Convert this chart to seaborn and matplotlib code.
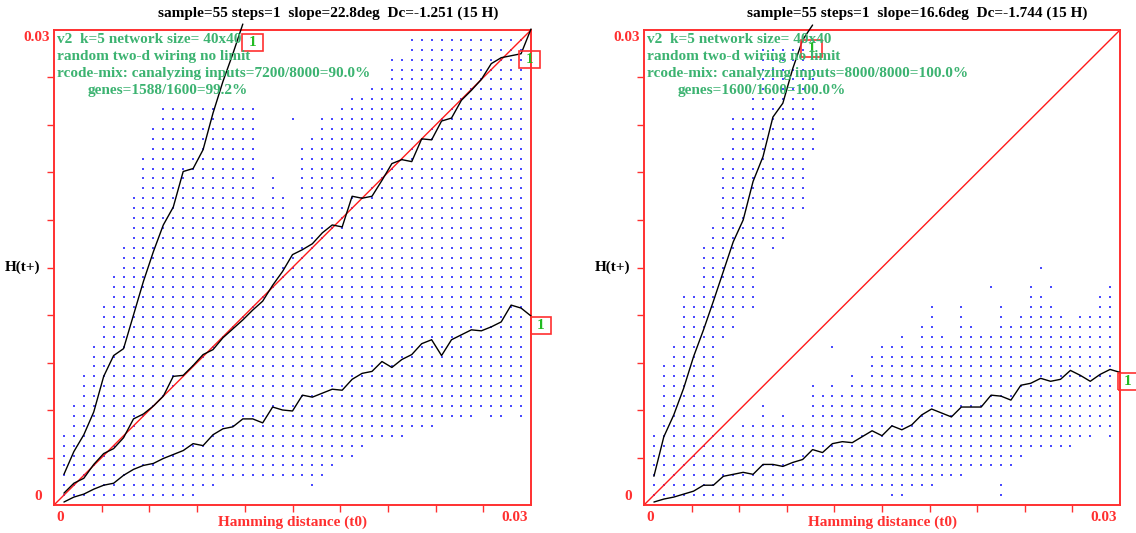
"""Derrida plot pair: damage spread H(t+) against Hamming distance (t0)."""
import matplotlib
matplotlib.use("Agg")
import matplotlib.pyplot as plt
import numpy as np
import pandas as pd
import seaborn as sns
from matplotlib.patches import Rectangle

CELLS = 1600  # 40x40 network, values below are in cells
TOP = 48      # 0.03 * 1600

steps = list(range(1, 49))

left_steep_steps = list(range(1, 20))
left_steep = [3.1, 5.4, 7.1, 9.4, 13.0, 15.1, 15.8, 19.2, 22.6, 25.6, 28.3, 30.1,
              33.7, 34.0, 35.9, 39.6, 42.8, 45.6, 48.6]
left_middle = [1.2, 2.2, 2.7, 4.1, 5.2, 5.7, 6.8, 8.7, 9.2, 10.0, 11.0, 13.0,
               13.1, 14.1, 15.2, 15.7, 16.9, 17.8, 18.7, 19.7, 20.6, 22.2, 23.6, 25.3,
               25.8, 26.4, 27.5, 28.3, 28.1, 31.2, 31.0, 31.2, 32.8, 34.5, 34.9, 34.7,
               37.0, 36.9, 38.8, 39.1, 40.9, 41.9, 43.0, 44.6, 45.2, 45.4, 45.6, 48.1]
left_bottom = [0.3, 0.8, 1.1, 1.6, 2.0, 2.2, 3.0, 3.6, 4.0, 4.2, 4.7, 5.1,
               5.5, 6.2, 6.0, 7.1, 7.7, 7.9, 8.7, 8.7, 8.3, 9.9, 9.6, 9.5,
               11.1, 10.9, 11.3, 11.7, 11.6, 12.7, 13.3, 13.5, 14.5, 13.9, 14.7, 15.2,
               16.3, 16.7, 15.1, 16.7, 17.2, 17.7, 17.6, 18.0, 18.5, 20.2, 19.9, 19.1]

right_steep_steps = list(range(1, 18))
right_steep = [2.9, 6.9, 9.1, 11.8, 15.0, 17.7, 20.6, 23.6, 26.6, 28.8, 32.7, 35.2,
               39.2, 40.6, 44.1, 47.0, 48.5]
right_bottom = [0.3, 0.6, 0.8, 1.1, 1.4, 2.0, 2.0, 2.9, 3.1, 3.3, 3.1, 4.1,
                4.1, 3.9, 4.3, 4.6, 5.6, 5.3, 6.2, 6.4, 6.3, 6.9, 7.5, 7.0,
                8.0, 7.6, 8.1, 9.1, 9.7, 9.3, 8.9, 9.9, 9.9, 9.9, 11.1, 11.0,
                10.6, 12.1, 12.3, 12.8, 12.5, 12.7, 13.6, 13.1, 12.5, 13.2, 13.7, 13.4]

# scatter of individual samples: (step, lowest cell, highest cell)
left_dots = [(1, 1, 7), (2, 1, 10), (3, 1, 13), (4, 1, 16), (5, 1, 20), (6, 1, 23),
             (7, 1, 26), (8, 1, 31), (9, 1, 35), (10, 1, 38), (11, 1, 40), (12, 1, 40),
             (13, 1, 40), (14, 1, 40), (15, 2, 40), (16, 2, 40), (17, 3, 40), (18, 3, 40),
             (19, 3, 40), (20, 3, 40), (21, 3, 30), (22, 3, 33), (23, 3, 31), (24, 3, 28),
             (24, 39, 39), (25, 3, 36), (26, 2, 37), (27, 3, 39), (28, 4, 39), (29, 5, 40),
             (30, 5, 41), (31, 6, 41), (32, 7, 42), (33, 7, 42), (34, 7, 45), (35, 7, 45),
             (36, 8, 47), (37, 8, 47), (38, 8, 47), (39, 9, 47), (40, 9, 47), (41, 9, 47),
             (42, 9, 47), (43, 10, 47), (44, 9, 47), (45, 9, 47), (46, 10, 47), (47, 9, 47)]
right_dots = [(1, 1, 7), (2, 1, 14), (3, 1, 16), (4, 1, 21), (5, 1, 21), (6, 1, 26),
              (7, 1, 28), (8, 1, 7), (8, 17, 35), (9, 1, 7), (9, 18, 39), (10, 1, 8),
              (10, 20, 39), (11, 1, 8), (11, 20, 41), (12, 1, 10), (12, 27, 46), (13, 1, 8),
              (13, 26, 46), (14, 1, 9), (14, 27, 46), (15, 2, 8), (15, 30, 46), (16, 2, 8),
              (16, 30, 46), (17, 2, 12), (17, 36, 44), (18, 2, 11), (19, 2, 12), (19, 16, 16),
              (20, 2, 11), (21, 2, 13), (22, 2, 12), (23, 2, 15), (24, 2, 16), (25, 1, 16),
              (26, 1, 17), (27, 2, 15), (28, 2, 18), (29, 2, 20), (30, 3, 17), (31, 3, 16),
              (32, 3, 20), (33, 4, 18), (34, 4, 17), (35, 4, 17), (35, 22, 22), (36, 1, 2),
              (36, 4, 20), (37, 4, 18), (38, 5, 19), (39, 6, 22), (40, 6, 21), (40, 24, 24),
              (41, 6, 20), (41, 22, 22), (42, 6, 19), (43, 6, 18), (44, 7, 19), (45, 7, 19),
              (46, 8, 21), (47, 7, 22)]

left_info = ["v2  k=5 network size= 40x40",
             "random two-d wiring no limit",
             "rcode-mix: canalyzing inputs=7200/8000=90.0%",
             "genes=1588/1600=99.2%"]
right_info = ["v2  k=5 network size= 40x40",
              "random two-d wiring no limit",
              "rcode-mix: canalyzing inputs=8000/8000=100.0%",
              "genes=1600/1600=100.0%"]
left_title = "sample=55 steps=1  slope=22.8deg  Dc=-1.251 (15 H)"
right_title = "sample=55 steps=1  slope=16.6deg  Dc=-1.744 (15 H)"

RED = "#ff3030"
GREEN = "#3cb371"
SERIF = ["Liberation Serif", "DejaVu Serif"]

sns.set_theme(style="white")
plt.rcParams["font.family"] = SERIF
plt.rcParams["font.weight"] = "bold"


def dot_frame(ranges):
    rows = [(k / CELLS, j / CELLS) for k, lo, hi in ranges for j in range(lo, hi + 1)]
    return pd.DataFrame(rows, columns=["x", "y"])


def curve_frame(ks, values):
    return pd.DataFrame({"x": np.array(ks) / CELLS, "y": np.array(values) / CELLS})


def label_box(ax, cx, cy):
    w, h = 2.1 / CELLS, 1.7 / CELLS
    ax.add_patch(Rectangle((cx / CELLS - w / 2, cy / CELLS - h / 2), w, h, fill=False,
                           edgecolor=RED, linewidth=1.2, clip_on=False, zorder=5))
    ax.text(cx / CELLS, cy / CELLS, "1", color="#22bb22", fontsize=11, fontweight="bold",
            ha="center", va="center", clip_on=False, zorder=6)


def draw_panel(ax, dots, curves, boxes, info, title):
    sns.scatterplot(data=dot_frame(dots), x="x", y="y", ax=ax, marker="s", s=1.0,
                    color="#4a4aff", linewidth=0, legend=False, zorder=1)
    ax.plot([0, TOP / CELLS], [0, TOP / CELLS], color="#ff1a1a", linewidth=1.0, zorder=2)
    for ks, vals in curves:
        sns.lineplot(data=curve_frame(ks, vals), x="x", y="y", ax=ax, color="black",
                     linewidth=1.0, estimator=None, sort=False, clip_on=False, zorder=3)
    for cx, cy in boxes:
        label_box(ax, cx, cy)

    ax.set_xlim(0, TOP / CELLS)
    ax.set_ylim(0, TOP / CELLS)
    ticks = np.arange(1, 10) * 0.003
    ax.set_xticks(ticks)
    ax.set_yticks(ticks)
    ax.set_xticklabels([])
    ax.set_yticklabels([])
    ax.tick_params(axis="both", direction="out", length=5, width=1, color=RED,
                   bottom=True, left=True)
    for spine in ax.spines.values():
        spine.set_color(RED)
        spine.set_linewidth(1.4)
    ax.set_xlabel("")
    ax.set_ylabel("")

    tr = ax.transAxes
    ax.text(0.006, -0.012, "0", color=RED, fontsize=11, ha="left", va="top", transform=tr)
    ax.text(0.994, -0.012, "0.03", color=RED, fontsize=11, ha="right", va="top", transform=tr)
    ax.text(-0.025, 0.005, "0", color=RED, fontsize=11, ha="right", va="bottom", transform=tr)
    ax.text(-0.008, 0.997, "0.03", color=RED, fontsize=11, ha="right", va="top", transform=tr)
    ax.text(0.5, -0.036, "Hamming distance (t0)", color=RED, fontsize=11,
            ha="center", va="center", transform=tr)
    ax.text(-0.067, 0.5, "H(t+)", color="black", fontsize=11, ha="center", va="center",
            transform=tr)
    ax.text(0.574, 1.036, title, color="black", fontsize=11, ha="center", va="center",
            transform=tr)
    for i, line in enumerate(info):
        x = 0.07 if i == 3 else 0.006
        ax.text(x, 0.979 - i * 0.0355, line, color=GREEN, fontsize=11, ha="left",
                va="center", transform=tr, zorder=7)


fig = plt.figure(figsize=(11.36, 5.33), dpi=100)
ax_left = fig.add_axes([54 / 1136, 28 / 533, 477 / 1136, 475 / 533])
ax_right = fig.add_axes([644 / 1136, 28 / 533, 476 / 1136, 475 / 533])

draw_panel(ax_left, left_dots,
           [(left_steep_steps, left_steep), (steps, left_middle), (steps, left_bottom)],
           [(20.0, 46.7), (47.85, 45.0), (49.0, 18.1)], left_info, left_title)
draw_panel(ax_right, right_dots,
           [(right_steep_steps, right_steep), (steps, right_bottom)],
           [(16.9, 46.1), (48.8, 12.5)], right_info, right_title)

fig.savefig("out.png", dpi=100)
